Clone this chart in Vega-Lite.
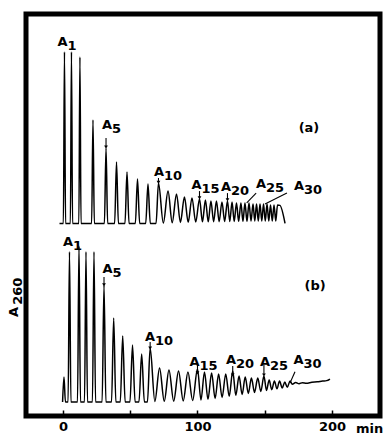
{
  "$schema": "https://vega.github.io/schema/vega-lite/v6.json",
  "width": 354,
  "height": 402,
  "autosize": {"type": "none"},
  "padding": {"left": 26, "top": 14, "right": 4, "bottom": 20},
  "background": "white",
  "config": {
    "view": {"stroke": "black", "strokeWidth": 5},
    "font": "DejaVu Sans"
  },
  "datasets": {
    "trace": [
      {"trace": "a", "t": -2.6, "A": 0.958},
      {"trace": "a", "t": 0.3, "A": 0.958}, {"trace": "a", "t": 1.1, "A": 1.811}, {"trace": "a", "t": 1.9, "A": 0.958},
      {"trace": "a", "t": 5.5, "A": 0.958}, {"trace": "a", "t": 6.3, "A": 1.811}, {"trace": "a", "t": 7.1, "A": 0.958},
      {"trace": "a", "t": 11.8, "A": 0.958}, {"trace": "a", "t": 12.6, "A": 1.786}, {"trace": "a", "t": 13.4, "A": 0.958},
      {"trace": "a", "t": 21.3, "A": 0.958}, {"trace": "a", "t": 22.3, "A": 1.473}, {"trace": "a", "t": 23.3, "A": 0.958},
      {"trace": "a", "t": 30.8, "A": 0.958}, {"trace": "a", "t": 32.0, "A": 1.333}, {"trace": "a", "t": 33.2, "A": 0.958},
      {"trace": "a", "t": 38.4, "A": 0.958}, {"trace": "a", "t": 39.8, "A": 1.264}, {"trace": "a", "t": 41.2, "A": 0.958},
      {"trace": "a", "t": 46.1, "A": 0.958}, {"trace": "a", "t": 47.6, "A": 1.214}, {"trace": "a", "t": 49.1, "A": 0.958},
      {"trace": "a", "t": 53.8, "A": 0.958}, {"trace": "a", "t": 55.4, "A": 1.179}, {"trace": "a", "t": 57.0, "A": 0.958},
      {"trace": "a", "t": 61.5, "A": 0.958}, {"trace": "a", "t": 63.2, "A": 1.154}, {"trace": "a", "t": 64.9, "A": 0.958},
      {"trace": "a", "t": 69.2, "A": 0.958}, {"trace": "a", "t": 71.0, "A": 1.159}, {"trace": "a", "t": 74.6, "A": 0.960},
      {"trace": "a", "t": 78.1, "A": 1.119}, {"trace": "a", "t": 81.2, "A": 0.962},
      {"trace": "a", "t": 84.4, "A": 1.104}, {"trace": "a", "t": 87.3, "A": 0.963},
      {"trace": "a", "t": 90.3, "A": 1.090}, {"trace": "a", "t": 93.1, "A": 0.964},
      {"trace": "a", "t": 95.9, "A": 1.085}, {"trace": "a", "t": 98.7, "A": 0.965},
      {"trace": "a", "t": 101.5, "A": 1.080}, {"trace": "a", "t": 103.7, "A": 0.966},
      {"trace": "a", "t": 105.9, "A": 1.075}, {"trace": "a", "t": 108.0, "A": 0.966},
      {"trace": "a", "t": 110.0, "A": 1.070}, {"trace": "a", "t": 112.0, "A": 0.967},
      {"trace": "a", "t": 114.1, "A": 1.070}, {"trace": "a", "t": 116.1, "A": 0.967},
      {"trace": "a", "t": 118.2, "A": 1.065}, {"trace": "a", "t": 120.2, "A": 0.968},
      {"trace": "a", "t": 122.3, "A": 1.070}, {"trace": "a", "t": 124.0, "A": 0.968},
      {"trace": "a", "t": 125.7, "A": 1.065}, {"trace": "a", "t": 127.3, "A": 0.968},
      {"trace": "a", "t": 129.0, "A": 1.060}, {"trace": "a", "t": 130.6, "A": 0.969},
      {"trace": "a", "t": 132.3, "A": 1.060}, {"trace": "a", "t": 133.8, "A": 0.969},
      {"trace": "a", "t": 135.3, "A": 1.060}, {"trace": "a", "t": 136.8, "A": 0.969},
      {"trace": "a", "t": 138.3, "A": 1.060}, {"trace": "a", "t": 139.8, "A": 0.970},
      {"trace": "a", "t": 141.3, "A": 1.055}, {"trace": "a", "t": 142.6, "A": 0.970},
      {"trace": "a", "t": 143.9, "A": 1.055}, {"trace": "a", "t": 145.2, "A": 0.970},
      {"trace": "a", "t": 146.5, "A": 1.055}, {"trace": "a", "t": 147.8, "A": 0.970},
      {"trace": "a", "t": 149.1, "A": 1.055}, {"trace": "a", "t": 150.4, "A": 0.970},
      {"trace": "a", "t": 151.7, "A": 1.055}, {"trace": "a", "t": 153.0, "A": 0.970},
      {"trace": "a", "t": 154.3, "A": 1.050}, {"trace": "a", "t": 155.6, "A": 0.970},
      {"trace": "a", "t": 156.9, "A": 1.050}, {"trace": "a", "t": 158.2, "A": 0.970},
      {"trace": "a", "t": 159.5, "A": 1.050}, {"trace": "a", "t": 161.3, "A": 1.048},
      {"trace": "a", "t": 165.1, "A": 0.958},

      {"trace": "b", "t": -0.3, "A": 0.07}, {"trace": "b", "t": 0.74, "A": 0.194}, {"trace": "b", "t": 1.8, "A": 0.07},
      {"trace": "b", "t": 3.8, "A": 0.07}, {"trace": "b", "t": 4.83, "A": 0.817}, {"trace": "b", "t": 5.9, "A": 0.07},
      {"trace": "b", "t": 10.8, "A": 0.07}, {"trace": "b", "t": 11.9, "A": 0.846}, {"trace": "b", "t": 13.0, "A": 0.07},
      {"trace": "b", "t": 16.0, "A": 0.07}, {"trace": "b", "t": 17.1, "A": 0.817}, {"trace": "b", "t": 18.2, "A": 0.07},
      {"trace": "b", "t": 21.9, "A": 0.07}, {"trace": "b", "t": 23.05, "A": 0.817}, {"trace": "b", "t": 24.2, "A": 0.07},
      {"trace": "b", "t": 29.1, "A": 0.07}, {"trace": "b", "t": 30.5, "A": 0.652}, {"trace": "b", "t": 31.9, "A": 0.07},
      {"trace": "b", "t": 36.1, "A": 0.07}, {"trace": "b", "t": 37.7, "A": 0.488}, {"trace": "b", "t": 39.3, "A": 0.07},
      {"trace": "b", "t": 42.6, "A": 0.07}, {"trace": "b", "t": 44.4, "A": 0.398}, {"trace": "b", "t": 46.2, "A": 0.07},
      {"trace": "b", "t": 49.8, "A": 0.07}, {"trace": "b", "t": 51.7, "A": 0.353}, {"trace": "b", "t": 53.6, "A": 0.07},
      {"trace": "b", "t": 56.5, "A": 0.07}, {"trace": "b", "t": 58.5, "A": 0.308}, {"trace": "b", "t": 60.5, "A": 0.07},
      {"trace": "b", "t": 62.8, "A": 0.07}, {"trace": "b", "t": 64.8, "A": 0.338}, {"trace": "b", "t": 68.3, "A": 0.072},
      {"trace": "b", "t": 71.8, "A": 0.239}, {"trace": "b", "t": 75.3, "A": 0.073},
      {"trace": "b", "t": 78.8, "A": 0.229}, {"trace": "b", "t": 82.3, "A": 0.074},
      {"trace": "b", "t": 85.9, "A": 0.224}, {"trace": "b", "t": 89.4, "A": 0.075},
      {"trace": "b", "t": 92.9, "A": 0.219}, {"trace": "b", "t": 96.4, "A": 0.077},
      {"trace": "b", "t": 100.0, "A": 0.234}, {"trace": "b", "t": 102.6, "A": 0.080},
      {"trace": "b", "t": 105.2, "A": 0.219}, {"trace": "b", "t": 107.8, "A": 0.083},
      {"trace": "b", "t": 110.5, "A": 0.214}, {"trace": "b", "t": 113.1, "A": 0.087},
      {"trace": "b", "t": 115.7, "A": 0.209}, {"trace": "b", "t": 118.3, "A": 0.092},
      {"trace": "b", "t": 121.0, "A": 0.209}, {"trace": "b", "t": 123.6, "A": 0.098},
      {"trace": "b", "t": 126.2, "A": 0.224}, {"trace": "b", "t": 128.5, "A": 0.103},
      {"trace": "b", "t": 130.9, "A": 0.199}, {"trace": "b", "t": 133.2, "A": 0.107},
      {"trace": "b", "t": 135.5, "A": 0.194}, {"trace": "b", "t": 137.8, "A": 0.112},
      {"trace": "b", "t": 140.1, "A": 0.189}, {"trace": "b", "t": 142.4, "A": 0.117},
      {"trace": "b", "t": 144.8, "A": 0.189}, {"trace": "b", "t": 147.1, "A": 0.122},
      {"trace": "b", "t": 149.4, "A": 0.199}, {"trace": "b", "t": 151.3, "A": 0.127},
      {"trace": "b", "t": 153.3, "A": 0.179}, {"trace": "b", "t": 155.2, "A": 0.131},
      {"trace": "b", "t": 157.2, "A": 0.174}, {"trace": "b", "t": 159.1, "A": 0.135},
      {"trace": "b", "t": 161.0, "A": 0.174}, {"trace": "b", "t": 163.0, "A": 0.139},
      {"trace": "b", "t": 164.9, "A": 0.169}, {"trace": "b", "t": 166.8, "A": 0.143},
      {"trace": "b", "t": 168.8, "A": 0.174}, {"trace": "b", "t": 170.5, "A": 0.158},
      {"trace": "b", "t": 173.0, "A": 0.167}, {"trace": "b", "t": 175.5, "A": 0.161},
      {"trace": "b", "t": 178.0, "A": 0.166}, {"trace": "b", "t": 181.0, "A": 0.163},
      {"trace": "b", "t": 185.0, "A": 0.168}, {"trace": "b", "t": 189.0, "A": 0.170},
      {"trace": "b", "t": 193.0, "A": 0.174}, {"trace": "b", "t": 196.0, "A": 0.176},
      {"trace": "b", "t": 198.5, "A": 0.184}
    ],
    "labels": [
      {"trace": "a", "sub": "1", "t": -0.37, "A": 1.861},
      {"trace": "a", "sub": "5", "t": 32.7, "A": 1.448},
      {"trace": "a", "sub": "10", "t": 71.4, "A": 1.214},
      {"trace": "a", "sub": "15", "t": 99.3, "A": 1.149},
      {"trace": "a", "sub": "20", "t": 121.2, "A": 1.139},
      {"trace": "a", "sub": "25", "t": 147.2, "A": 1.154},
      {"trace": "a", "sub": "30", "t": 175.5, "A": 1.144},
      {"trace": "b", "sub": "1", "t": 3.7, "A": 0.866},
      {"trace": "b", "sub": "5", "t": 33.1, "A": 0.731},
      {"trace": "b", "sub": "10", "t": 64.7, "A": 0.393},
      {"trace": "b", "sub": "15", "t": 97.8, "A": 0.269},
      {"trace": "b", "sub": "20", "t": 124.9, "A": 0.279},
      {"trace": "b", "sub": "25", "t": 150.2, "A": 0.269},
      {"trace": "b", "sub": "30", "t": 175.1, "A": 0.279}
    ],
    "arrows": [
      {"kind": "arrow", "t": 32.0, "A": 1.383, "t2": 32.0, "A2": 1.338},
      {"kind": "arrow", "t": 71.0, "A": 1.184, "t2": 71.0, "A2": 1.162},
      {"kind": "arrow", "t": 101.5, "A": 1.119, "t2": 101.5, "A2": 1.085},
      {"kind": "arrow", "t": 122.3, "A": 1.109, "t2": 122.3, "A2": 1.075},
      {"kind": "leader", "t": 143.6, "A": 1.109, "t2": 136.6, "A2": 1.060},
      {"kind": "leader", "t": 166.5, "A": 1.109, "t2": 150.2, "A2": 1.055},
      {"kind": "arrow", "t": 30.5, "A": 0.692, "t2": 30.5, "A2": 0.652},
      {"kind": "arrow", "t": 64.8, "A": 0.368, "t2": 64.8, "A2": 0.338},
      {"kind": "arrow", "t": 100.0, "A": 0.254, "t2": 100.0, "A2": 0.214},
      {"kind": "arrow", "t": 126.2, "A": 0.249, "t2": 126.2, "A2": 0.204},
      {"kind": "arrow", "t": 149.4, "A": 0.254, "t2": 149.4, "A2": 0.204},
      {"kind": "leader", "t": 172.5, "A": 0.220, "t2": 168.8, "A2": 0.164}
    ],
    "panels": [
      {"lab": "(a)", "t": 182.9, "A": 1.433},
      {"lab": "(b)", "t": 187.4, "A": 0.647}
    ],
    "ytitle": [
      {"lab": "A", "t": -36.4, "A": 0.517},
      {"lab": "260", "t": -33.5, "A": 0.621}
    ]
  },
  "encoding": {
    "x": {
      "field": "t", "type": "quantitative",
      "scale": {"domain": [-27.5, 235.7], "nice": false, "zero": false},
      "axis": {
        "title": "min",
        "values": [0, 50, 100, 150, 200],
        "labelExpr": "datum.value % 100 === 0 ? datum.label : ''",
        "domain": false, "grid": false,
        "tickSize": -6, "tickWidth": 1.5, "tickColor": "black",
        "labelPadding": 10, "labelFont": "DejaVu Sans", "labelFontWeight": "bold", "labelFontSize": 13, "labelColor": "black",
        "titleFont": "DejaVu Sans", "titleFontWeight": "bold", "titleFontSize": 13, "titleColor": "black",
        "titleX": 343, "titleY": 12, "titleAlign": "center", "titleBaseline": "middle", "titleAngle": 0
      }
    },
    "y": {
      "field": "A", "type": "quantitative",
      "scale": {"domain": [0, 2], "nice": false, "zero": false},
      "axis": null
    }
  },
  "layer": [
    {
      "data": {"name": "trace"},
      "mark": {"type": "line", "interpolate": "monotone", "strokeWidth": 1.5, "color": "black"},
      "encoding": {"detail": {"field": "trace"}}
    },
    {
      "data": {"name": "arrows"},
      "mark": {"type": "rule", "strokeWidth": 1.1, "color": "black"},
      "encoding": {"x2": {"field": "t2"}, "y2": {"field": "A2"}}
    },
    {
      "data": {"name": "arrows"},
      "transform": [{"filter": "datum.kind === 'arrow'"}],
      "mark": {"type": "point", "shape": "triangle-down", "filled": true, "size": 14, "color": "black", "opacity": 1},
      "encoding": {"x": {"field": "t2", "type": "quantitative"}, "y": {"field": "A2", "type": "quantitative"}}
    },
    {
      "data": {"name": "labels"},
      "mark": {"type": "text", "text": "A", "font": "DejaVu Sans", "fontWeight": "bold", "fontSize": 13, "align": "center", "baseline": "middle", "color": "black"},
      "encoding": {}
    },
    {
      "data": {"name": "labels"},
      "mark": {"type": "text", "font": "DejaVu Sans", "fontWeight": "bold", "fontSize": 13, "align": "left", "baseline": "middle", "dx": 5, "dy": 4, "color": "black"},
      "encoding": {"text": {"field": "sub"}}
    },
    {
      "data": {"name": "panels"},
      "mark": {"type": "text", "font": "DejaVu Sans", "fontWeight": "bold", "fontSize": 13, "align": "center", "baseline": "middle", "color": "black"},
      "encoding": {"text": {"field": "lab"}}
    },
    {
      "data": {"name": "ytitle"},
      "mark": {"type": "text", "font": "DejaVu Sans", "fontWeight": "bold", "fontSize": 13, "align": "center", "baseline": "middle", "angle": 270, "color": "black"},
      "encoding": {"text": {"field": "lab"}}
    }
  ]
}
